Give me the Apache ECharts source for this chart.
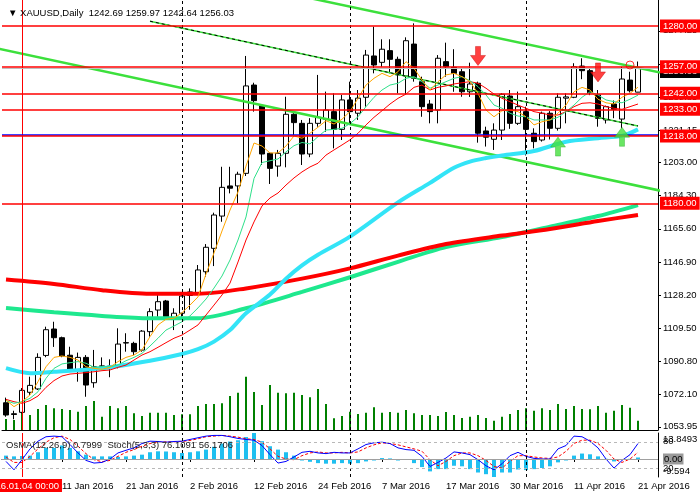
<!DOCTYPE html>
<html><head><meta charset="utf-8">
<script src="https://cdn.jsdelivr.net/npm/echarts@6/dist/echarts.min.js"></script>
<style>html,body{margin:0;padding:0;background:#fff}#c{width:700px;height:499px}</style>
</head><body><div id="c"></div><script>
// ---------- DATA ----------
const dates = [
'2015.12.30','2015.12.31',
'2016.01.04','2016.01.05','2016.01.06','2016.01.07','2016.01.08',
'2016.01.11','2016.01.12','2016.01.13','2016.01.14','2016.01.15',
'2016.01.18','2016.01.19','2016.01.20','2016.01.21','2016.01.22',
'2016.01.25','2016.01.26','2016.01.27','2016.01.28','2016.01.29',
'2016.02.01','2016.02.02','2016.02.03','2016.02.04','2016.02.05',
'2016.02.08','2016.02.09','2016.02.10','2016.02.11','2016.02.12',
'2016.02.15','2016.02.16','2016.02.17','2016.02.18','2016.02.19',
'2016.02.22','2016.02.23','2016.02.24','2016.02.25','2016.02.26',
'2016.02.29','2016.03.01','2016.03.02','2016.03.03','2016.03.04',
'2016.03.07','2016.03.08','2016.03.09','2016.03.10','2016.03.11',
'2016.03.14','2016.03.15','2016.03.16','2016.03.17','2016.03.18',
'2016.03.21','2016.03.22','2016.03.23','2016.03.24',
'2016.03.28','2016.03.29','2016.03.30','2016.03.31','2016.04.01',
'2016.04.04','2016.04.05','2016.04.06','2016.04.07','2016.04.08',
'2016.04.11','2016.04.12','2016.04.13','2016.04.14','2016.04.15',
'2016.04.18','2016.04.19','2016.04.20','2016.04.21'];
const futureDates = ['2016.04.22','2016.04.25'];

const opens = [1067.5,1061.3,1062.1,1073.4,1075.3,1094.2,1109.1,1104.2,1094.3,1086.0,
1093.1,1078.8,1088.0,1088.2,1087.8,1101.4,1101.0,1097.2,1107.6,1119.8,
1124.9,1115.2,1118.0,1128.0,1129.2,1141.4,1154.6,1172.8,1189.8,1189.8,
1196.9,1246.7,1234.9,1208.2,1201.0,1208.2,1230.2,1225.1,1207.8,1225.1,
1227.4,1231.7,1221.7,1238.3,1230.8,1239.8,1263.1,1259.5,1266.1,1261.2,
1251.8,1269.8,1248.6,1236.0,1232.6,1259.9,1256.7,1254.2,1242.9,1247.7,
1220.8,1216.1,1221.3,1240.5,1225.1,1231.7,1219.5,1215.7,1230.8,1222.3,
1239.3,1239.8,1257.4,1254.8,1241.1,1227.0,1236.0,1227.5,1249.5,1242.69];
const highs = [1070.4,1063.0,1075.8,1082.2,1095.4,1110.4,1113.2,1104.8,1099.1,1095.8,
1094.4,1097.3,1093.1,1092.0,1109.5,1106.7,1101.9,1108.5,1120.8,1128.3,
1125.5,1120.8,1128.3,1132.0,1145.2,1157.0,1174.7,1200.6,1200.6,1197.8,
1263.1,1248.0,1235.0,1208.2,1210.1,1240.1,1230.8,1227.0,1228.0,1252.4,
1243.0,1242.0,1241.1,1248.6,1243.9,1266.5,1279.6,1272.5,1272.5,1262.7,
1273.6,1281.5,1251.4,1238.3,1263.6,1270.6,1266.9,1256.1,1259.3,1248.6,
1223.2,1225.1,1242.1,1243.9,1243.0,1234.5,1222.3,1231.7,1232.0,1242.0,
1242.0,1259.0,1261.8,1256.1,1243.9,1235.1,1238.0,1257.0,1254.2,1259.97];
const lows = [1059.6,1058.2,1061.5,1071.9,1074.7,1093.2,1099.0,1093.2,1085.6,1079.4,
1070.9,1076.0,1086.0,1081.9,1086.9,1096.3,1094.4,1096.3,1104.8,1116.0,
1114.2,1108.5,1116.0,1120.0,1128.3,1138.6,1144.6,1169.6,1185.6,1180.0,
1195.4,1231.7,1201.6,1190.9,1195.0,1200.3,1218.5,1201.6,1206.0,1223.2,
1220.4,1211.0,1215.7,1225.1,1227.0,1234.5,1253.3,1257.0,1253.3,1242.0,
1241.1,1248.6,1228.8,1225.1,1225.1,1251.4,1242.9,1240.1,1240.0,1214.2,
1212.0,1210.1,1215.7,1222.0,1224.2,1207.0,1211.0,1214.8,1216.0,1221.0,
1225.1,1239.3,1250.0,1241.0,1223.2,1225.0,1228.0,1222.3,1242.5,1242.64];
const closes = [1060.6,1060.9,1074.5,1077.3,1093.1,1108.7,1104.2,1093.9,1086.0,1093.1,
1077.5,1087.8,1088.3,1088.0,1100.6,1101.2,1096.3,1107.9,1118.9,1124.5,
1116.0,1118.0,1127.7,1130.0,1142.4,1155.2,1173.4,1189.0,1188.5,1196.4,
1246.2,1237.9,1207.8,1199.7,1208.2,1230.2,1225.5,1207.8,1225.1,1228.5,
1232.6,1221.7,1238.3,1231.7,1239.3,1263.6,1258.0,1266.9,1261.2,1252.4,
1271.7,1250.5,1234.5,1231.7,1261.8,1257.0,1253.3,1242.9,1247.3,1219.5,
1217.3,1221.3,1241.5,1225.1,1234.5,1221.7,1214.8,1230.8,1222.3,1239.8,
1240.0,1257.0,1254.8,1242.4,1227.9,1234.5,1233.0,1250.1,1243.5,1256.03];

const volumes = [44000,40000,72000,60000,84000,100000,86800,84000,80000,73200,
96000,116000,53200,96000,86800,96000,66800,56000,69200,69200,
69200,60000,62800,62800,96000,104000,104000,106800,136000,149200,
213200,152000,100000,180000,149200,146800,149200,140000,130800,164000,
104000,46800,56000,73200,64000,69200,90800,69200,72000,69200,
80000,66800,60000,60000,56000,72000,60000,48000,53200,60000,
48000,37200,53200,64000,80000,86800,77200,86800,80000,104000,
84000,96000,84000,82800,96000,69200,77200,100000,89200,37200];

const maFast = [1069.0,1065.3,1068.1,1071.9,1079.4,1087.8,1093.1,1093.9,1093.1,1091.6,
1087.8,1086.9,1086.4,1087.5,1090.7,1093.1,1094.4,1097.3,1104.8,1111.4,
1114.6,1115.2,1118.3,1122.6,1127.2,1140.1,1152.0,1164.4,1176.2,1186.4,
1201.0,1214.0,1212.3,1208.4,1208.4,1212.3,1218.0,1216.7,1219.5,1222.9,
1226.6,1224.7,1227.4,1231.8,1239.2,1246.7,1250.5,1253.3,1251.4,1254.2,
1259.9,1256.1,1249.5,1243.9,1248.6,1252.4,1253.3,1251.4,1248.6,1242.0,
1232.6,1228.8,1232.2,1232.6,1231.7,1228.8,1224.2,1226.0,1227.0,1230.8,
1235.4,1242.9,1245.4,1243.9,1238.7,1236.7,1236.0,1239.8,1242.0,1245.5];
const maMid = [1068.7,1067.2,1068.1,1070.0,1073.7,1081.3,1086.9,1089.4,1090.1,1090.7,
1089.8,1087.5,1087.8,1087.8,1088.8,1091.2,1093.1,1095.4,1099.5,1103.9,
1108.5,1110.8,1113.2,1116.5,1121.0,1126.0,1132.2,1139.0,1148.0,1159.3,
1172.3,1194.0,1203.0,1204.0,1205.0,1209.0,1212.5,1214.3,1213.5,1217.6,
1221.3,1221.7,1222.3,1224.9,1228.8,1234.5,1239.8,1243.9,1246.7,1247.7,
1250.5,1251.4,1248.6,1244.9,1246.7,1248.6,1250.5,1251.4,1249.1,1245.8,
1241.1,1235.4,1233.6,1230.8,1229.2,1228.8,1227.0,1227.0,1227.0,1228.5,
1231.7,1235.4,1239.8,1242.9,1241.1,1238.3,1237.3,1236.7,1238.7,1241.0];
const maSlow = [1069.4,1068.1,1067.2,1068.7,1071.3,1076.2,1080.0,1082.6,1083.7,1084.1,
1084.5,1085.0,1085.6,1086.0,1087.5,1088.8,1091.6,1094.4,1096.3,1098.8,
1101.4,1103.9,1105.7,1108.5,1111.4,1117.0,1122.6,1128.3,1135.0,1146.9,
1159.3,1169.5,1178.5,1183.0,1185.8,1190.3,1194.3,1197.7,1200.5,1202.6,
1207.2,1210.1,1212.9,1215.8,1219.5,1224.2,1228.5,1232.2,1236.0,1239.2,
1241.6,1245.4,1246.7,1243.9,1245.4,1246.2,1247.3,1248.0,1248.6,1247.7,
1244.9,1241.6,1239.2,1237.3,1235.4,1233.6,1231.7,1230.8,1229.8,1229.8,
1231.7,1234.5,1236.4,1236.7,1236.0,1234.5,1233.6,1233.0,1234.5,1236.0];

const maLongRed = [['2015.12.30',1137],['2016.01.08',1134.5],['2016.01.18',1131],['2016.01.26',1129],
['2016.02.03',1129],['2016.02.11',1132],['2016.02.22',1137.5],['2016.03.01',1143.3],['2016.03.09',1150.5],
['2016.03.17',1157],['2016.03.29',1161.8],['2016.04.06',1165.5],['2016.04.14',1170],['2016.04.21',1173.4]];
const maLongGreen = [['2015.12.30',1121],['2016.01.08',1118.5],['2016.01.18',1116.5],['2016.01.26',1115.2],
['2016.02.03',1115.2],['2016.02.11',1120.8],['2016.02.22',1130],['2016.03.01',1138.3],['2016.03.09',1147],
['2016.03.17',1155.3],['2016.03.29',1161],['2016.04.06',1166.8],['2016.04.14',1172.8],['2016.04.21',1179]];
const maMidCyan = [['2015.12.30',1087],['2016.01.05',1084.2],['2016.01.08',1085],['2016.01.18',1087],
['2016.01.26',1091.2],['2016.02.01',1095],['2016.02.03',1097.7],['2016.02.05',1102],['2016.02.09',1108.5],
['2016.02.11',1118],['2016.02.16',1128.5],['2016.02.18',1137.5],['2016.02.22',1145],['2016.02.24',1151],
['2016.03.01',1161.2],['2016.03.09',1180.5],['2016.03.15',1191.5],['2016.03.18',1200],['2016.03.22',1203.5],
['2016.03.24',1205.5],['2016.03.29',1207],['2016.04.04',1209.5],['2016.04.08',1214.7],['2016.04.14',1216.7],
['2016.04.19',1218],['2016.04.21',1221.7]];

const osma = [1.8,1.4,1.6,1.8,3.6,5.9,5.9,7.2,5.9,4.1,
2.3,1.4,1.4,1.4,1.1,1.4,1.8,2.3,3.6,4.1,
4.0,3.6,3.2,3.6,4.1,5.0,6.5,8.2,9.3,10.0,
11.7,13.8493,9.5,6.8,5.0,3.6,1.8,-0.8,-1.5,-2.2,
-2.5,-2.5,-2.2,-2.5,-2.2,-1.3,-0.8,0.5,0.3,-0.8,
-0.4,-2.2,-4.3,-6.6,-5.4,-5.4,-3.6,-3.9,-5.4,-7.2,
-8.1,-9.594,-7.2,-7.2,-5.6,-5.9,-5.4,-4.8,-3.9,-1.8,
-0.8,1.8,2.9,2.5,1.4,0.1,-1.3,-0.4,0.1,0.7999];
const stochMain = [35.4,16.3,39.3,63.9,81.4,91.5,92.9,91.5,73.8,54.7,
37.7,31.7,33.1,40.9,54.7,60.7,66.2,76.1,81.4,80.7,
79.1,80.7,81.4,85.3,89.2,92.9,94.5,94.5,91.5,87.6,
85.3,83.7,71.5,50.8,31.7,35.4,45.5,56.1,58.4,54.7,
53.1,56.1,54.7,54.7,63.9,73.8,77.7,79.1,76.1,66.2,
62.3,60.7,46.9,23.9,33.1,43.2,57.0,54.7,50.8,39.3,
25.5,16.3,30.1,48.5,56.1,46.9,42.3,40.9,40.9,63.9,
71.5,92.9,91.5,81.4,66.2,40.9,20.2,37.7,50.8,76.1091];
const stochSignal = [45.5,33.1,33.1,46.9,63.9,79.1,89.2,92.9,85.3,69.9,
53.1,39.3,34.7,37.7,46.9,56.1,62.3,69.9,76.1,79.1,
79.9,79.9,80.7,83.0,86.9,91.5,92.9,94.5,92.9,90.6,
86.9,85.3,79.1,63.9,46.9,40.9,39.3,48.5,54.7,57.0,
54.7,54.7,56.1,54.7,57.0,66.2,73.1,77.7,76.1,73.1,
68.5,63.9,58.4,39.3,25.5,35.4,48.5,54.7,54.7,48.5,
37.7,23.9,20.2,35.4,48.5,48.5,45.5,43.2,42.3,45.5,
58.4,76.1,83.7,83.7,76.1,60.7,40.9,33.1,40.9,56.1706];

const levels = [1280, 1257, 1242, 1233, 1218, 1180];
const blueLevel = 1218.5;
const bidPrice = 1256.03;
const priceTicks = [1053.95,1072.10,1090.80,1109.50,1128.20,1146.90,1165.60,1184.30,1203.00,1221.15,1239.85,1258.55,1277.25];
const osmaTicks = [13.8493, 0, -9.594];
const stochLevels = [80, 20];
const tickDates = ['2016.01.11','2016.01.21','2016.02.02','2016.02.12','2016.02.24','2016.03.07','2016.03.17','2016.03.30','2016.04.11','2016.04.21'];
const monthStarts = ['2016.02.01','2016.03.01','2016.04.01'];
const cursorDate = '2016.01.04';
const trendUpper = [[35,1298.6],[82,1253.5]];
const trendLower = [[-1,1267.3],[82,1186.9]];
const fibLine = [[18,1282.7],[79,1223.6]];
const fibLevelText = '23.6';
const sellArrows = [['2016.03.23',1263.1],['2016.04.14',1253.8]];
const buyArrows = [['2016.04.07',1212],['2016.04.19',1217.5]];
const alertCircle = [['2016.04.20',1258]];

// ---------- BUILD ----------
const allDates = dates.concat(futureDates);
const MON = ['Jan','Feb','Mar','Apr','May','Jun','Jul','Aug','Sep','Oct','Nov','Dec'];
const fmtDate = s => { const p = s.split('.'); return (+p[2]) + ' ' + MON[+p[1]-1] + ' ' + p[0]; };
const candles = dates.map((d,i) => [opens[i], closes[i], lows[i], highs[i]]);
const last = dates.length - 1;
const FONT = 'Liberation Sans, Arial, sans-serif';
const FS = 9.5;
const RED = '#ff0000';
const showTick = (idx, val) => tickDates.indexOf(val) >= 0;
const mlBase = {symbol:['none','none'], silent:true, animation:false, label:{show:false}};
const levelLabel = {show:true, position:'end', distance:2, formatter: p => p.value.toFixed(2),
  color:'#fff', backgroundColor:RED, padding:[2,3,1,3], fontSize:FS, fontFamily:FONT};

const option = {
  animation: false,
  backgroundColor: '#fff',
  textStyle: {fontFamily: FONT, fontSize: FS},
  title: [
    {text: '▼ XAUUSD,Daily  ' + [opens[last],highs[last],lows[last],closes[last]].map(v=>v.toFixed(2)).join(' '),
     left: 3, top: 3, textStyle:{fontFamily:FONT, fontSize:FS, fontWeight:'normal', color:'#000'}},
    {text: 'OsMA(12,26,9) ' + osma[last].toFixed(4) + '  Stoch(5,3,3) ' + stochMain[last].toFixed(4) + ' ' + stochSignal[last].toFixed(4),
     left: 1, top: 435, textStyle:{fontFamily:FONT, fontSize:FS, fontWeight:'normal', color:'#222'}}
  ],
  grid: [
    {left: 2, right: 42, top: 0, height: 430, outerBoundsMode: 'none', containLabel: false},
    {left: 2, right: 42, top: 433, height: 44, outerBoundsMode: 'none', containLabel: false}
  ],
  xAxis: [
    {type:'category', gridIndex:0, data: allDates, boundaryGap:true,
     axisLine:{show:true, lineStyle:{color:'#000'}}, axisTick:{show:false}, axisLabel:{show:false}, splitLine:{show:false}},
    {type:'category', gridIndex:1, data: allDates, boundaryGap:true,
     axisLine:{show:true, lineStyle:{color:'#000'}},
     axisTick:{show:true, alignWithLabel:true, interval: showTick, length:3, lineStyle:{color:'#000'}},
     axisLabel:{interval: showTick, formatter: fmtDate, align:'left', margin:4, fontSize:FS, color:'#000', fontFamily:FONT},
     splitLine:{show:false}}
  ],
  yAxis: [
    {type:'value', gridIndex:0, position:'right', min:1052.14, max:1294.66, scale:true,
     axisLine:{show:true, lineStyle:{color:'#000'}},
     axisTick:{show:true, customValues: priceTicks, length:3, lineStyle:{color:'#000'}},
     axisLabel:{customValues: priceTicks, formatter: v => v.toFixed(2), margin:5, fontSize:FS, color:'#000', fontFamily:FONT},
     splitLine:{show:false}},
    {type:'value', gridIndex:0, min:0, max:1720000, show:false, splitLine:{show:false}},
    {type:'value', gridIndex:1, position:'right', min:-9.594, max:13.8493,
     axisLine:{show:true, lineStyle:{color:'#000'}},
     axisTick:{show:false},
     axisLabel:{customValues: osmaTicks, margin:5, fontSize:FS, color:'#000', fontFamily:FONT,
       formatter: v => v === osmaTicks[0] ? '{t|' + v + '}' : (v === osmaTicks[2] ? '{b|' + v + '}' : '{z|0.00}'),
       rich:{
         t:{padding:[12,0,0,0], fontSize:FS, color:'#000', fontFamily:FONT},
         b:{padding:[0,0,12,0], fontSize:FS, color:'#000', fontFamily:FONT},
         z:{backgroundColor:'#9a9a9a', padding:[1,1,0,1], fontSize:FS, color:'#000', fontFamily:FONT}
       }},
     splitLine:{show:false}},
    {type:'value', gridIndex:1, position:'right', min:0, max:100,
     axisLine:{show:false}, axisTick:{show:false},
     axisLabel:{customValues: stochLevels, margin:5, fontSize:FS, color:'#000', fontFamily:FONT},
     splitLine:{show:false}}
  ],
  series: [
    // volumes with vertical lines
    {type:'bar', name:'Volume', xAxisIndex:0, yAxisIndex:1, data: volumes, barWidth:2,
     itemStyle:{color:'#008000'}, silent:true,
     markLine: Object.assign({}, mlBase, {data: [
       {xAxis: cursorDate, lineStyle:{color:RED, width:1, type:'solid'}},
       ...monthStarts.map(d => ({xAxis: d, lineStyle:{color:'#000', width:1, type:[3,3]}}))
     ]})},
    // lower trend line (also carries bid line + blue level)
    {type:'line', name:'TrendLower', xAxisIndex:0, yAxisIndex:0, data: trendLower, symbol:'none', clip:true,
     lineStyle:{color:'#3ce03c', width:2.5}, silent:true,
     markLine: Object.assign({}, mlBase, {data:[
       {yAxis: bidPrice, lineStyle:{color:'#c0c0c0', width:1, type:'solid'},
        label:{show:true, position:'end', distance:2, formatter: p => p.value.toFixed(2), color:'#fff', backgroundColor:'#000', padding:[2,3,1,3], fontSize:FS, fontFamily:FONT, offset:[0,3]}},
       {yAxis: blueLevel, lineStyle:{color:'#0000ff', width:1.5, type:'solid'}}
     ]})},
    {type:'line', name:'TrendUpper', xAxisIndex:0, yAxisIndex:0, data: trendUpper, symbol:'none', clip:true,
     lineStyle:{color:'#3ce03c', width:2.5}, silent:true},
    {type:'line', name:'FibBase', xAxisIndex:0, yAxisIndex:0, data: fibLine, symbol:'none', clip:true,
     lineStyle:{color:'#3ce03c', width:1.5}, silent:true},
    {type:'line', name:'Fib', xAxisIndex:0, yAxisIndex:0, symbol:'none', clip:false,
     data: fibLine.map((p,i) => i === fibLine.length-1 ?
        {value:p, label:{show:true, position:'right', distance:1, offset:[0,3], formatter: fibLevelText, color:'#0000ff', fontSize:FS, fontFamily:FONT}} : {value:p}),
     lineStyle:{color:'#000', width:1, type:[3,3]}, silent:true},
    // long moving averages
    {type:'line', name:'MA long green', xAxisIndex:0, yAxisIndex:0, data: maLongGreen, symbol:'none', smooth:0.3,
     lineStyle:{color:'#1ee88e', width:4}, silent:true},
    {type:'line', name:'MA long red', xAxisIndex:0, yAxisIndex:0, data: maLongRed, symbol:'none', smooth:0.3,
     lineStyle:{color:RED, width:4}, silent:true},
    {type:'line', name:'MA cyan', xAxisIndex:0, yAxisIndex:0, data: maMidCyan, symbol:'none', smooth:0.3,
     lineStyle:{color:'#33e4f7', width:4}, silent:true},
    // candles
    {type:'candlestick', name:'XAUUSD', xAxisIndex:0, yAxisIndex:0, data: candles, barWidth:5,
     itemStyle:{color:'#ffffff', color0:'#000000', borderColor:'#000000', borderColor0:'#000000', borderWidth:1},
     silent:true},
    // short moving averages; the slow one carries the horizontal levels
    {type:'line', name:'MA slow', xAxisIndex:0, yAxisIndex:0, data: maSlow, symbol:'none',
     itemStyle:{color:RED}, lineStyle:{color:RED, width:1}, silent:true,
     markLine: {symbol:['none','none'], silent:true, animation:false,
       data: levels.map(v => ({yAxis: v, lineStyle:{color:RED, width:1.5, type:'solid', opacity:1}, label: levelLabel}))}},
    {type:'line', name:'MA mid', xAxisIndex:0, yAxisIndex:0, data: maMid, symbol:'none', lineStyle:{color:'#2ee08a', width:1}, silent:true},
    {type:'line', name:'MA fast', xAxisIndex:0, yAxisIndex:0, data: maFast, symbol:'none', lineStyle:{color:'#ffa500', width:1}, silent:true},
    // signals
    {type:'scatter', name:'Sell', xAxisIndex:0, yAxisIndex:0, data: sellArrows, symbol:'path://M5,0L10,0L10,9L15,9L7.5,19L0,9L5,9Z',
     symbolSize:[15,19], itemStyle:{color:'#ff1010', borderColor:'#c00000', borderWidth:0.5}, silent:true, z:5},
    {type:'scatter', name:'Buy', xAxisIndex:0, yAxisIndex:0, data: buyArrows, symbol:'path://M7.5,0L15,10L10,10L10,19L5,19L5,10L0,10Z',
     symbolSize:[15,19], itemStyle:{color:'#44e03c', borderColor:'#2aa82a', borderWidth:0.5}, silent:true, z:5},
    {type:'scatter', name:'Alert', xAxisIndex:0, yAxisIndex:0, data: alertCircle, symbol:'circle',
     symbolSize:8, itemStyle:{color:'rgba(0,0,0,0)', borderColor:RED, borderWidth:1}, silent:true, z:5},
    // sub panel
    {type:'bar', name:'OsMA', xAxisIndex:1, yAxisIndex:2, data: osma, barWidth:4,
     itemStyle:{color:'#1fbff0'}, silent:true,
     markLine: Object.assign({}, mlBase, {data: [
       {xAxis: cursorDate, lineStyle:{color:RED, width:1, type:'solid'},
        label:{show:true, position:'start', distance:2, formatter:'2016.01.04 00:00', color:'#fff', backgroundColor:RED, padding:[2,3,1,3], fontSize:FS, fontFamily:FONT}},
       ...monthStarts.map(d => ({xAxis: d, lineStyle:{color:'#000', width:1, type:[3,3]}})),
       {yAxis: 0, lineStyle:{color:'#a0a0a0', width:1, type:'solid'}}
     ]})},
    {type:'line', name:'Stoch signal', xAxisIndex:1, yAxisIndex:3, data: stochSignal, symbol:'none',
     lineStyle:{color:RED, width:1, type:[3,2]}, silent:true,
     markLine: Object.assign({}, mlBase, {data: stochLevels.map(v => ({yAxis:v, lineStyle:{color:'#b8b8b8', width:1, type:[3,3]}}))})},
    {type:'line', name:'Stoch main', xAxisIndex:1, yAxisIndex:3, data: stochMain, symbol:'none',
     lineStyle:{color:'#0000ff', width:1}, silent:true}
  ]
};
const chart = echarts.init(document.getElementById('c'), null, {renderer:'canvas'});
chart.setOption(option);
</script></body></html>
